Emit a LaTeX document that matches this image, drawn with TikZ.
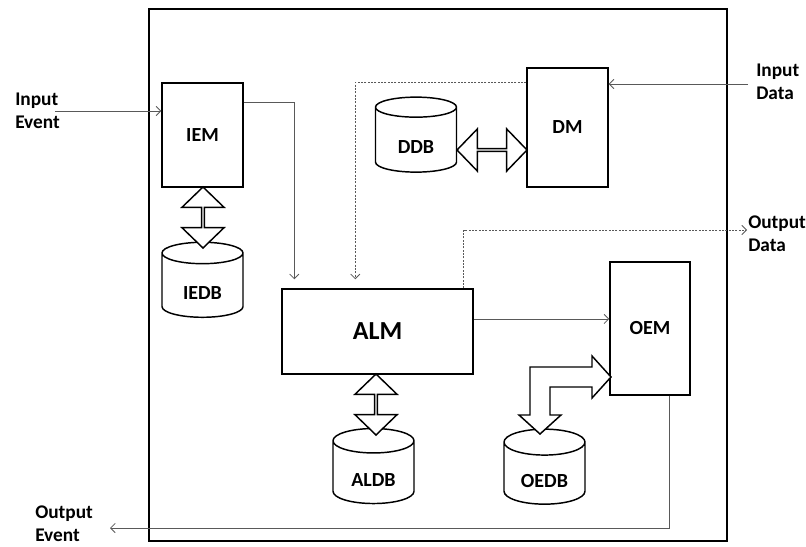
\documentclass[tikz,border=0pt]{standalone}
\usepackage{fontspec}
\setmainfont{Carlito}
\usetikzlibrary{arrows.meta,shapes.geometric,shapes.arrows}

\newcommand{\dbname}[1]{\raisebox{-5.5pt}[\height][\depth]{#1}}

\tikzset{
    module/.style={draw,line width=1.1pt,inner sep=0pt,font=\bfseries\fontsize{15}{17}\selectfont},
    store/.style={cylinder,shape border rotate=90,aspect=0.55,draw,line width=1.1pt,inner sep=0pt,
        minimum width=60.75pt,minimum height=56.25pt,font=\bfseries\fontsize{15}{17}\selectfont},
    twoway/.style={double arrow,draw,line width=1.1pt,fill=white,inner sep=0pt,minimum width=31.5pt,
        double arrow head extend=8.25pt,double arrow tip angle=92},
    link/.style={draw=black!65,line width=0.6pt,-{Straight Barb[length=3.5pt,width=7pt]}},
    dlink/.style={link,dash pattern=on 1.5pt off 1pt},
    ext/.style={align=left,inner sep=0pt,anchor=west,font=\bfseries\fontsize{14.5}{17.25}\selectfont}
}

\begin{document}
\begin{tikzpicture}[x=0.75pt,y=-0.75pt]
                \useasboundingbox (0,0) rectangle (806,546);
                \draw[line width=1.6pt] (149,9) rectangle (727,541);

                \node[module,minimum width=60.75pt,minimum height=78pt] (iem) at (202.5,135) {IEM};
                \node[module,minimum width=60.75pt,minimum height=89.25pt] (dm) at (567.5,127.5) {DM};
                \node[module,minimum width=143.25pt,minimum height=63.75pt,font=\bfseries\fontsize{19.5}{22}\selectfont] (alm) at (377.5,331.5) {ALM};
                \node[module,minimum width=60pt,minimum height=99.75pt] (oem) at (650,328.5) {OEM};

                \node[store] (iedb) at (202.5,285.5) {\dbname{IEDB}};
                \node[store] (ddb) at (416,140) {\dbname{DDB}};
                \node[store] (aldb) at (373.5,472.5) {\dbname{ALDB}};
                \node[store] (oedb) at (544.5,473.5) {\dbname{OEDB}};

                \node[twoway,rotate=90,minimum height=45.75pt] (iemio) at (203,217.5) {};
                \node[twoway,rotate=90,minimum height=45.75pt] (almio) at (376,404.5) {};
                \node[twoway,minimum height=52.5pt] (dmio) at (492,150) {};
                \draw[line width=1.1pt,fill=white] (540,434) -- (519,415) -- (530,415) -- (530,367) -- (592,367) -- (592,356)
                    -- (611,377) -- (592,398) -- (592,387) -- (550,387) -- (550,415) -- (561,415) -- cycle;

                \node[ext] (inevtext) at (15,111) {Input\\Event};
                \node[ext] (indatatext) at (756,82) {Input\\Data};
                \node[ext] (outdatatext) at (748,234) {Output\\Data};
                \node[ext] (outevtext) at (35,524) {Output\\Event};
                \coordinate (inev) at (55,111);
                \coordinate (indata) at (748,84);
                \coordinate (outdata) at (747,230);
                \coordinate (outev) at (110,528);

                \draw[link] (inev) -- (inev -| iem.west);
                \draw[link] ([yshift=-15pt]iem.north east) -| ([xshift=9.75pt,yshift=6.75pt]alm.north west);
                \draw[link] (indata) -- (indata -| dm.east);
                \draw[dlink] ([yshift=-11.25pt]dm.north west) -| ([xshift=55.5pt,yshift=6.75pt]alm.north west);
                \draw[dlink] ([xshift=-7.5pt]alm.north east) |- (outdata);
                \draw[link] ([yshift=9.4pt]alm.east) -- ([yshift=9.4pt]alm.east -| oem.west);
                \draw[link] ([xshift=-15.75pt]oem.south east) |- (outev);
            \end{tikzpicture}
\end{document}
